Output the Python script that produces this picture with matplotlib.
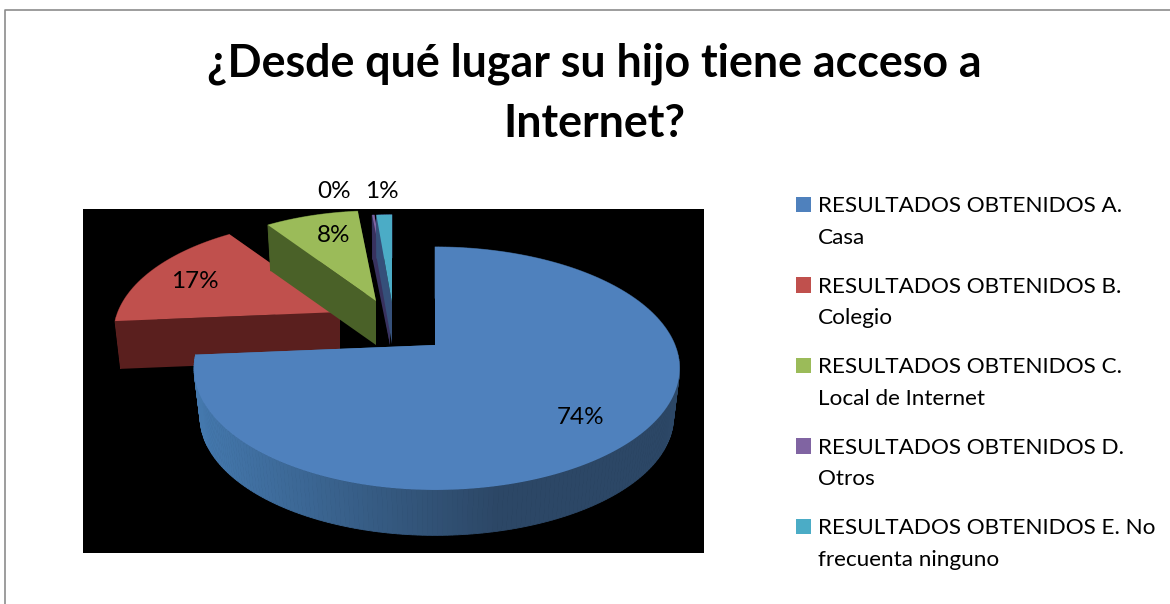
import numpy as np
import matplotlib
matplotlib.use("Agg")
import matplotlib.pyplot as plt
from matplotlib.patches import Polygon, Patch, Rectangle
from matplotlib.colors import to_rgb

# --- data -------------------------------------------------------------
title = "¿Desde qué lugar su hijo tiene acceso a\nInternet?"
categories = ["RESULTADOS OBTENIDOS A.\nCasa",
              "RESULTADOS OBTENIDOS B.\nColegio",
              "RESULTADOS OBTENIDOS C.\nLocal de Internet",
              "RESULTADOS OBTENIDOS D.\nOtros",
              "RESULTADOS OBTENIDOS E. No\nfrecuenta ninguno"]
values = [74.0, 16.6, 8.2, 0.2, 1.4]

# --- style / layout ----------------------------------------------------
colors = ["#4f81bd", "#c0504d", "#9bbb59", "#8064a2", "#4bacc6"]
wall_colors = ["#2f4f74", "#5a1f1e", "#4a6128", "#38325f", "#35507a"]
centers = [(435, 345), (340, 312), (376, 301), (390, 303), (392, 303)]
scales = [1.0, 0.94, 0.92, 0.90, 0.90]
depths = [49, 48, 44, 42, 41]
label_xy = [(581, 417), (195, 282), (334, 236), (334, 191), (382, 191)]
RX, RY, K = 240.0, 117.0, 0.193
LEFT_FACTOR = 0.985
FONT = "Lato"

fig = plt.figure(figsize=(11.70, 6.04), dpi=100, facecolor="white")
ax = fig.add_axes([0, 0, 1, 1])
ax.set_xlim(0, 1170)
ax.set_ylim(604, 0)
ax.axis("off")

# chart frame and black plot area
ax.plot([5, 5, 1170], [604, 10, 10], color="#8c8c8c", lw=1.2, zorder=1)
ax.add_patch(Rectangle((83, 209), 621, 344, facecolor="black", edgecolor="none", zorder=1))


def project(theta, center, s, drop=0.0):
    u, v = np.sin(theta), np.cos(theta)
    w = 1 + K * v
    f = 0.975 if drop else 1.0
    side = np.where(u < 0, LEFT_FACTOR, 1.0)
    return (center[0] + f * s * RX * side * u / w,
            center[1] + drop - f * s * RY * v / w)


def lerp(c1, c2, t):
    a, b = np.array(to_rgb(c1)), np.array(to_rgb(c2))
    return tuple(a + (b - a) * t)


def rim_color(i, x):
    if i != 0:
        return wall_colors[i]
    t = np.clip((x - 200) / 300.0, 0, 1)
    return lerp("#4478ad", "#2c4766", t)


def draw_slice(i, start, end, z):
    c, s, d = centers[i], scales[i], depths[i]
    th = np.linspace(start, end, max(3, int(np.degrees(end - start)) + 2))
    xt, yt = project(th, c, s)
    xb, yb = project(th, c, s, d)
    base = (c[0], c[1]), (c[0], c[1] + d)
    # rim
    for j in range(len(th) - 1):
        q = [(xt[j], yt[j]), (xt[j + 1], yt[j + 1]), (xb[j + 1], yb[j + 1]), (xb[j], yb[j])]
        col = rim_color(i, xt[j])
        ax.add_patch(Polygon(q, closed=True, facecolor=col, edgecolor=col, lw=0.6, zorder=z))
    # radial faces
    for xa, ya, xc, yc in ((xt[0], yt[0], xb[0], yb[0]), (xt[-1], yt[-1], xb[-1], yb[-1])):
        q = [(xa, ya), base[0], base[1], (xc, yc)]
        ax.add_patch(Polygon(q, closed=True, facecolor=rim_color(i, xa), edgecolor="none", zorder=z + 0.1))
    # top surface
    top = [base[0]] + list(zip(xt, yt))
    ax.add_patch(Polygon(top, closed=True, facecolor=colors[i], edgecolor="none", zorder=z + 0.2))


total = sum(values)
edges = np.concatenate([[0.0], np.cumsum(values)]) / total * 2 * np.pi
order = [1, 2, 3, 4, 0]
for n, i in enumerate(order):
    draw_slice(i, edges[i], edges[i + 1], 2 + n)

for v, xy in zip(values, label_xy):
    ax.text(xy[0], xy[1], f"{v / total * 100:.0f}%", ha="center", va="center",
            fontsize=17.5, family=FONT, color="black", zorder=20)

fig.suptitle(title, x=594 / 1170, y=1 - 94 / 604, ha="center", va="center",
             fontsize=32.2, fontweight="bold", family=FONT, color="black", linespacing=1.53)

handles = [Patch(facecolor=c, edgecolor="none") for c in colors]
leg = ax.legend(handles, categories, loc="upper left", bbox_to_anchor=(796 / 1170, 1 - 196 / 604),
                bbox_transform=fig.transFigure, frameon=False, borderpad=0, borderaxespad=0,
                handlelength=0.67, handleheight=0.67, handletextpad=0.31, labelspacing=1.29,
                prop={"family": FONT, "size": 16.2})
for t in leg.get_texts():
    t.set_linespacing(1.72)
for h in leg.get_patches():
    h.set_y(h.get_y() + 12.5)

fig.savefig("out.png", dpi=100, facecolor="white")
